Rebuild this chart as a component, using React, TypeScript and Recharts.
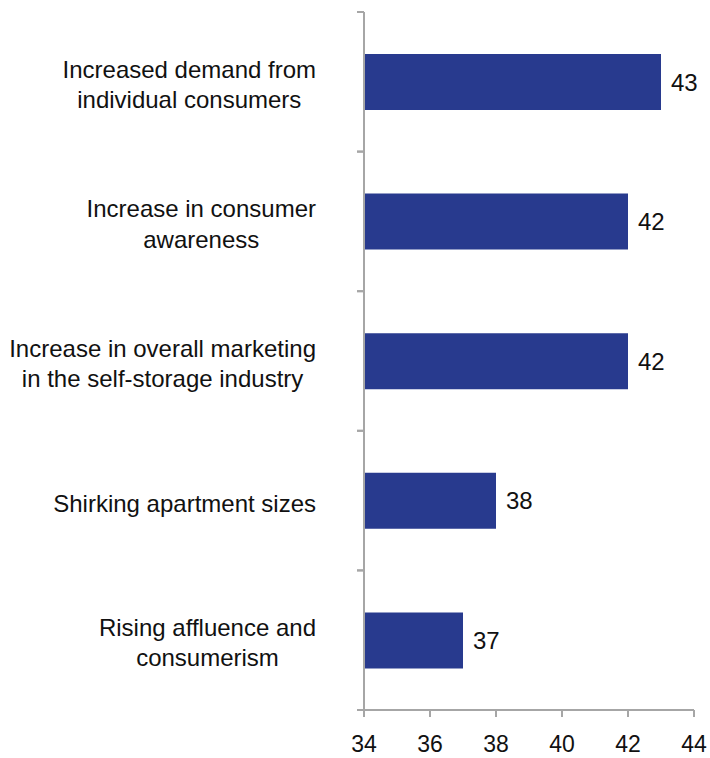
import React from "react";
import { BarChart, Bar, XAxis, YAxis, LabelList } from "recharts";

const categories = [
  "Increased demand from\nindividual consumers",
  "Increase in consumer\nawareness",
  "Increase in overall marketing\nin the self-storage industry",
  "Shirking apartment sizes",
  "Rising affluence and\nconsumerism",
];
const values = [43, 42, 42, 38, 37];
const xTicks = [34, 36, 38, 40, 42, 44];

const data = categories.map((c, i) => ({ name: c, value: values[i] }));

const FONT = "'Liberation Sans', Arial, Helvetica, sans-serif";
const AXIS = "#A6A6A6";
const BAR = "#283A8E";
const LABEL_SIZE = 24;
const LINE_H = 30.5;

let ctx: CanvasRenderingContext2D | null = null;
function measure(t: string): number {
  if (!ctx) {
    const c = document.createElement("canvas");
    ctx = c.getContext("2d");
  }
  if (!ctx) return t.length * LABEL_SIZE * 0.5;
  ctx.font = `${LABEL_SIZE}px 'Liberation Sans', Arial`;
  return ctx.measureText(t).width;
}

const CategoryTick = (props: any) => {
  const { x, y, payload, height } = props;
  const lines: string[] = String(payload.value).split("\n");
  const half =
    payload && typeof payload.offset === "number" && payload.offset > 0
      ? payload.offset
      : height / categories.length / 2;
  const blockW = Math.max(...lines.map(measure));
  const right = x - 48;
  const cx = right - blockW / 2;
  const firstBaseline = y + 11 - ((lines.length - 1) * LINE_H) / 2;
  return (
    <g>
      <line x1={x - 7} x2={x} y1={y - half} y2={y - half} stroke={AXIS} strokeWidth={2} />
      <line x1={x - 7} x2={x} y1={y + half} y2={y + half} stroke={AXIS} strokeWidth={2} />
      <text textAnchor="middle" fontSize={LABEL_SIZE} fontFamily={FONT} fill="#111">
        {lines.map((l, i) => (
          <tspan key={i} x={cx} y={firstBaseline + i * LINE_H}>
            {l}
          </tspan>
        ))}
      </text>
    </g>
  );
};

const ValueTick = (props: any) => {
  const { x, y, payload } = props;
  return (
    <text x={x} y={y + 35} textAnchor="middle" fontSize={23} fontFamily={FONT} fill="#111">
      {payload.value}
    </text>
  );
};

export default function App() {
  return (
    <div style={{ position: "absolute", left: 0, top: 0, background: "#fff" }}>
      <BarChart
        width={710}
        height={758}
        data={data}
        layout="vertical"
        margin={{ top: 12, right: 16, bottom: 0, left: 0 }}
      >
        <XAxis
          type="number"
          domain={[34, 44]}
          ticks={xTicks}
          allowDataOverflow
          height={48}
          tickSize={7}
          tickMargin={0}
          tick={<ValueTick />}
          tickLine={{ stroke: AXIS, strokeWidth: 2 }}
          axisLine={{ stroke: AXIS, strokeWidth: 2 }}
        />
        <YAxis
          type="category"
          dataKey="name"
          width={364}
          tickSize={0}
          tickMargin={0}
          tickLine={false}
          axisLine={{ stroke: AXIS, strokeWidth: 2 }}
          tick={<CategoryTick />}
          interval={0}
        />
        <Bar dataKey="value" fill={BAR} barSize={56} isAnimationActive={false}>
          <LabelList
            dataKey="value"
            position="right"
            offset={10}
            fill="#111"
            fontSize={24}
            fontFamily={FONT}
          />
        </Bar>
      </BarChart>
    </div>
  );
}
